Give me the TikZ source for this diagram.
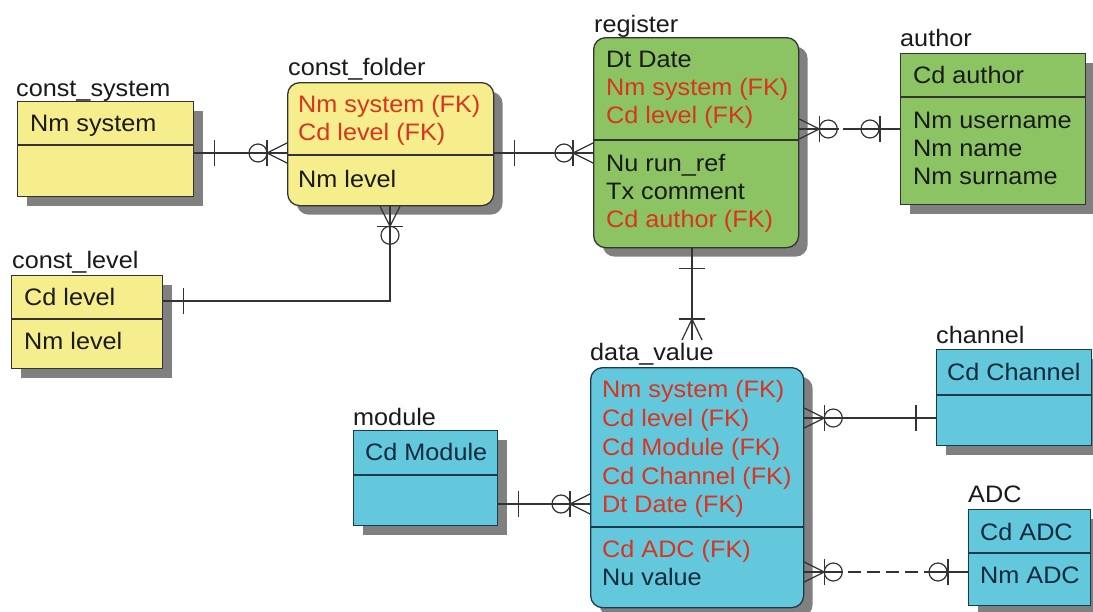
\documentclass[tikz,border=0pt]{standalone}
\usepackage{fontspec}
\setmainfont[FakeStretch=1.06]{Liberation Sans}
\usetikzlibrary{shadows,calc}
\definecolor{yel}{HTML}{F6EE8C}
\definecolor{grn}{HTML}{8CC464}
\definecolor{blu}{HTML}{64C8DC}
\definecolor{fkred}{HTML}{D9341F}
\definecolor{bord}{HTML}{333333}
\definecolor{bordb}{HTML}{1A3A50}
\definecolor{txtd}{HTML}{1A1A1A}
\definecolor{txtb}{HTML}{0E2A3C}
\definecolor{lnc}{HTML}{333333}
\begin{document}
\begin{tikzpicture}[x=1pt,y=-1pt,
  font=\fontsize{23.8}{29}\selectfont,
  ent/.style={draw=bord, line width=1.3pt, inner sep=0pt, anchor=north west,
    drop shadow={shadow xshift=9pt, shadow yshift=-9pt, fill=black!50, opacity=1}},
  divl/.style={draw=bord, line width=1.2pt},
  conn/.style={draw=lnc, line width=1.2pt},
  ttl/.style={anchor=base west, inner sep=0pt, text=txtd},
  att/.style={anchor=base west, inner sep=0pt, text=txtd},
  attb/.style={anchor=base west, inner sep=0pt, text=txtb},
  fk/.style={anchor=base west, inner sep=0pt, text=fkred},
  pics/zmany/.style={code={
    \draw[conn] (0,-10) -- (20,0) -- (0,10);
    \draw[conn] (20,-13) -- (20,13);
    \draw[conn] (29,0) circle[radius=9];}},
  pics/omany/.style={code={
    \draw[conn] (0,-10) -- (21,0) -- (0,10);
    \draw[conn] (21,-13) -- (21,13);}},
  pics/one/.style={code={\draw[conn] (20,-13) -- (20,13);}},
  pics/zone/.style={code={
    \draw[conn] (20,-13) -- (20,13);
    \draw[conn] (30,0) circle[radius=9];}}
]
\useasboundingbox (0,0) rectangle (1093,611);
\fill[white] (0,0) rectangle (1093,611);

% ---------- entity boxes ----------
\node[ent,fill=yel,minimum width=176,minimum height=95] (csys) at (17,101) {};
\node[ent,rounded corners=12pt,fill=yel,minimum width=206,minimum height=123] (cfold) at (287,82) {};
\node[ent,fill=yel,minimum width=151,minimum height=93] (clev) at (11,275) {};
\node[ent,rounded corners=12pt,fill=grn,minimum width=205,minimum height=210] (reg) at (593,37) {};
\node[ent,fill=grn,minimum width=185,minimum height=151] (auth) at (900,53) {};
\node[ent,rounded corners=12pt,fill=blu,draw=bordb,minimum width=213,minimum height=240] (dv) at (590,367) {};
\node[ent,fill=blu,draw=bordb,minimum width=144,minimum height=95] (mod) at (353,430) {};
\node[ent,fill=blu,draw=bordb,minimum width=155,minimum height=96] (chan) at (936,349) {};
\node[ent,fill=blu,draw=bordb,minimum width=122,minimum height=96] (adc) at (968,509) {};

% ---------- dividers ----------
\draw[divl] ([yshift=-44pt]csys.north west) -- ([yshift=-44pt]csys.north east);
\draw[divl] ([yshift=-73pt]cfold.north west) -- ([yshift=-73pt]cfold.north east);
\draw[divl] ([yshift=-44pt]clev.north west) -- ([yshift=-44pt]clev.north east);
\draw[divl] ([yshift=-103pt]reg.north west) -- ([yshift=-103pt]reg.north east);
\draw[divl] ([yshift=-44pt]auth.north west) -- ([yshift=-44pt]auth.north east);
\draw[divl,draw=bordb] ([yshift=-160pt]dv.north west) -- ([yshift=-160pt]dv.north east);
\draw[divl,draw=bordb] ([yshift=-45pt]mod.north west) -- ([yshift=-45pt]mod.north east);
\draw[divl,draw=bordb] ([yshift=-46pt]chan.north west) -- ([yshift=-46pt]chan.north east);
\draw[divl,draw=bordb] ([yshift=-44pt]adc.north west) -- ([yshift=-44pt]adc.north east);

% ---------- titles ----------
\node[ttl] (csys-t) at (16,96) {const\_system};
\node[ttl] (cfold-t) at (288,75) {const\_folder};
\node[ttl] (clev-t) at (12,268) {const\_level};
\node[ttl] (reg-t) at (594,32) {register};
\node[ttl] (auth-t) at (900,46) {author};
\node[ttl] (dv-t) at (590,360) {data\_value};
\node[ttl] (mod-t) at (353,425) {module};
\node[ttl] (chan-t) at (936,343) {channel};
\node[ttl] (adc-t) at (968,502) {ADC};

% ---------- attributes ----------
\node[att] (csys-1) at (30,131) {Nm system};

\node[fk] (cfold-1) at (298,112) {Nm system (FK)};
\node[fk] (cfold-2) at (298,140) {Cd level (FK)};
\node[att] (cfold-3) at (298,187) {Nm level};

\node[att] (clev-1) at (24,305) {Cd level};
\node[att] (clev-2) at (24,349) {Nm level};

\node[att] (reg-1) at (606,67) {Dt Date};
\node[fk] (reg-2) at (606,95) {Nm system (FK)};
\node[fk] (reg-3) at (606,123) {Cd level (FK)};
\node[att] (reg-4) at (606,171) {Nu run\_ref};
\node[att] (reg-5) at (606,199) {Tx comment};
\node[fk] (reg-6) at (606,227) {Cd author (FK)};

\node[att] (auth-1) at (913,83) {Cd author};
\node[att] (auth-2) at (913,128) {Nm username};
\node[att] (auth-3) at (913,156) {Nm name};
\node[att] (auth-4) at (913,184) {Nm surname};

\node[fk] (dv-1) at (602,397) {Nm system (FK)};
\node[fk] (dv-2) at (602,426) {Cd level (FK)};
\node[fk] (dv-3) at (602,455) {Cd Module (FK)};
\node[fk] (dv-4) at (602,484) {Cd Channel (FK)};
\node[fk] (dv-5) at (602,512) {Dt Date (FK)};
\node[fk] (dv-6) at (602,557) {Cd ADC (FK)};
\node[attb] (dv-7) at (602,585) {Nu value};

\node[attb] (mod-1) at (365,460) {Cd Module};
\node[attb] (chan-1) at (947,380) {Cd Channel};
\node[attb] (adc-1) at (980,540) {Cd ADC};
\node[attb] (adc-2) at (980,583) {Nm ADC};

% ---------- connector levels ----------
\coordinate (y1) at (0,153);
\coordinate (y2) at (0,129);
\coordinate (y3) at (0,301);
\coordinate (x3) at (390,0);
\coordinate (x4) at (692,0);
\coordinate (dvend) at (692,340);
\coordinate (y5) at (0,418);
\coordinate (y6) at (0,504);
\coordinate (y7) at (0,572);

% const_system -- const_folder
\draw[conn] (csys.east |- y1) -- (cfold.west |- y1);
\pic at (csys.east |- y1) {one};
\pic[rotate=180] at (cfold.west |- y1) {zmany};

% const_folder -- register
\draw[conn] (cfold.east |- y1) -- (reg.west |- y1);
\pic at (cfold.east |- y1) {one};
\pic[rotate=180] at (reg.west |- y1) {zmany};

% const_level -- const_folder
\draw[conn] (cfold.south -| x3) -- (x3 |- y3) -- (clev.east |- y3);
\pic[rotate=-90] at (cfold.south -| x3) {zmany};
\pic at (clev.east |- y3) {one};

% register -- author (dashed)
\draw[conn] (reg.east |- y2) -- ($(reg.east |- y2)+(40,0)$);
\draw[conn] ($(auth.west |- y2)+(-57,0)$) -- (auth.west |- y2);
\pic at (reg.east |- y2) {zmany};
\pic[rotate=180] at (auth.west |- y2) {zone};

% register -- data_value
\draw[conn] (reg.south -| x4) -- (dvend);
\pic[rotate=-90] at (reg.south -| x4) {one};
\pic[rotate=90] at (dvend) {omany};

% data_value -- channel
\draw[conn] (dv.east |- y5) -- (chan.west |- y5);
\pic at (dv.east |- y5) {zmany};
\pic[rotate=180] at (chan.west |- y5) {one};

% module -- data_value
\draw[conn] (mod.east |- y6) -- (dv.west |- y6);
\pic at (mod.east |- y6) {one};
\pic[rotate=180] at (dv.west |- y6) {zmany};

% data_value -- ADC (dashed)
\draw[conn] (dv.east |- y7) -- ($(dv.east |- y7)+(39,0)$);
\draw[conn,dash pattern=on 13pt off 6pt] ($(dv.east |- y7)+(44,0)$) -- ($(adc.west |- y7)+(-40,0)$);
\draw[conn] ($(adc.west |- y7)+(-40,0)$) -- (adc.west |- y7);
\pic at (dv.east |- y7) {zmany};
\pic[rotate=180] at (adc.west |- y7) {zone};
\end{tikzpicture}
\end{document}
